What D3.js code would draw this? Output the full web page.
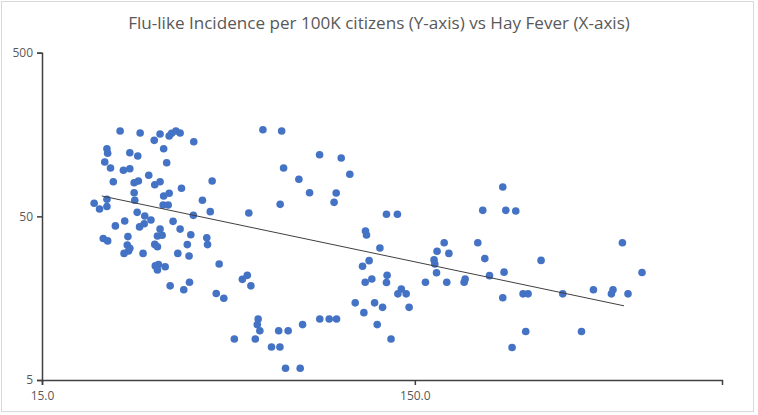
<!DOCTYPE html>
<html>
<head>
<meta charset="utf-8">
<script src="https://cdn.jsdelivr.net/npm/d3@7"></script>
<style>
  html, body { margin: 0; padding: 0; background: #fff; }
  svg { display: block; }
</style>
</head>
<body>
<svg id="chart" width="758" height="415"></svg>
<script>
// ---- Data ----
const hayFever = [
  24.3, 27.5, 31.1, 30.0, 32.9, 33.4, 34.3, 35.2, 38.3, 31.8,
  22.4, 22.5, 25.8, 27.1, 22.1, 32.4, 22.9, 24.8, 25.8, 29.0,
  23.3, 26.5, 27.2, 30.1, 31.1, 42.9, 35.5, 26.5, 31.8, 32.9,
  22.4, 26.6, 40.4, 20.7, 21.4, 22.4, 31.7, 32.7, 42.4, 53.8,
  27.0, 38.2, 28.3, 33.7, 29.4, 25.0, 23.6, 28.2, 27.4, 31.1,
  35.2, 30.6, 31.5, 37.6, 41.5, 41.7, 25.5, 21.9, 22.5, 25.4,
  25.8, 25.6, 24.9, 28.0, 30.1, 30.6, 36.8, 34.7, 37.2, 44.8,
  30.2, 30.8, 30.6, 32.1, 33.1, 36.0, 37.3, 44.0, 46.1, 51.7,
  53.3, 54.5, 57.0, 56.7, 57.6, 49.2, 56.0, 64.7, 68.6, 75.0,
  61.9, 65.2, 67.5, 73.9, 83.4, 88.4, 92.5, 58.7, 65.9, 83.3,
  95.2, 66.7, 73.3, 100.4, 78.3, 92.3, 91.1, 65.3, 125.9, 134.7,
  110.6, 111.3, 120.9, 108.6, 113.1, 110.4, 115.0, 126.4, 125.9, 103.8,
  109.5, 117.0, 122.9, 118.9, 129.5, 135.1, 138.0, 142.2, 144.8, 258.2,
  228.2, 263.1, 279.8, 179.8, 221.3, 172.1, 185.1, 168.9, 169.7, 231.1,
  327.1, 171.5, 160.2, 182.7, 204.7, 203.4, 237.9, 260.3, 258.2, 292.7,
  301.9, 297.6, 273.5, 374.0, 452.0, 510.1, 505.1, 559.6, 540.6, 610.2,
  419.9
];
const fluIncidence = [
  166.1, 161.5, 159.3, 145.7, 154.8, 160.9, 166.1, 161.5, 142.9, 129.5,
  129.5, 121.4, 122.4, 116.9, 107.4, 106.3, 98.7, 95.6, 97.7, 89.1,
  81.4, 80.3, 82.2, 78.0, 81.4, 82.2, 74.2, 69.7, 66.6, 69.2,
  63.6, 62.7, 62.7, 60.1, 55.4, 57.4, 58.7, 58.7, 53.4, 52.4,
  52.9, 50.7, 50.2, 46.6, 47.5, 46.8, 43.7, 45.1, 43.1, 41.8,
  41.8, 37.9, 38.3, 38.6, 37.0, 33.6, 37.6, 36.6, 35.4, 33.4,
  31.9, 30.7, 29.7, 29.7, 33.7, 32.6, 33.6, 29.7, 28.6, 25.6,
  24.9, 25.4, 23.5, 24.6, 18.8, 17.8, 19.8, 16.9, 15.8, 20.6,
  21.8, 18.8, 11.8, 10.9, 10.0, 8.9, 8.9, 10.0, 10.0, 10.9,
  7.95, 7.95, 5.9, 5.9, 11.8, 11.8, 11.8, 169.2, 166.1, 119.0,
  113.6, 98.7, 84.2, 90.4, 69.7, 69.5, 60.9, 59.2, 51.5, 51.5,
  40.7, 38.5, 32.0, 24.8, 26.8, 19.8, 20.7, 21.8, 19.7, 14.8,
  12.9, 14.8, 13.9, 10.9, 8.9, 16.8, 18.0, 16.8, 13.9, 75.6,
  54.4, 54.4, 53.9, 34.5, 34.5, 30.6, 29.7, 27.1, 25.6, 27.6,
  26.9, 22.6, 19.8, 19.8, 20.7, 19.8, 21.7, 22.8, 15.9, 16.8,
  16.8, 9.9, 7.9, 16.8, 17.8, 17.8, 16.8, 16.8, 34.5, 22.7,
  9.9
];
// Power trendline as drawn in the reference (endpoints)
const trendX = [21.7, 546];
const trendY = [66.6, 14.2];
const xTicks = [15, 150];
const yTicks = [5, 50, 500];
const xDomain = [15, 1000];
const yDomain = [5, 500];
const titleText = "Flu-like Incidence per 100K citizens (Y-axis) vs Hay Fever (X-axis)";

// ---- Drawing ----
(function () {
  const svg = d3.select("#chart");
  const W = 758, H = 415;
  const mLeft = 42, mRight = 722, mTop = 52.7, mBottom = 380;

  svg.append("rect")
    .attr("x", 1.5).attr("y", 1.5)
    .attr("width", W - 6).attr("height", H - 5)
    .attr("fill", "#fff").attr("stroke", "#d9d9d9").attr("stroke-width", 1);

  const x = d3.scaleLog().domain(xDomain).range([mLeft, mRight]);
  const y = d3.scaleLog().domain(yDomain).range([mBottom, mTop]);

  const font = "'Open Sans', 'Liberation Sans', sans-serif";

  const title = svg.append("text")
    .attr("x", 379).attr("y", 28.5)
    .attr("text-anchor", "middle")
    .attr("fill", "#595959")
    .style("font-family", font)
    .style("font-size", "18px")
    .text(titleText);
  const tw = title.node().getComputedTextLength();
  if (tw > 0) title.style("font-size", (18 * 502 / tw).toFixed(2) + "px");

  const xAxis = d3.axisBottom(x).tickValues(xTicks).tickFormat(d3.format(".1f"))
    .tickSizeOuter(0).tickSize(5).tickPadding(6);
  const yAxis = d3.axisLeft(y).tickValues(yTicks).tickFormat(d => d)
    .tickSizeOuter(0).tickSize(5).tickPadding(4);

  const gx = svg.append("g").attr("transform", `translate(0,${mBottom})`).call(xAxis);
  const gy = svg.append("g").attr("transform", `translate(${mLeft},0)`).call(yAxis);

  [gx, gy].forEach(g => {
    g.select(".domain").attr("stroke", "#404040").attr("stroke-width", 1.5);
    g.selectAll(".tick line").attr("stroke", "#404040").attr("stroke-width", 1.5);
    g.selectAll(".tick text")
      .attr("fill", "#595959")
      .style("font-family", font)
      .style("font-size", "12px");
  });

  svg.append("g").selectAll("circle")
    .data(hayFever.map((v, i) => [v, fluIncidence[i]]))
    .join("circle")
    .attr("cx", d => x(d[0]))
    .attr("cy", d => y(d[1]))
    .attr("r", 3.8)
    .attr("fill", "#4472C4");

  svg.append("path")
    .datum(trendX.map((v, i) => [v, trendY[i]]))
    .attr("fill", "none")
    .attr("stroke", "#404040")
    .attr("stroke-width", 1)
    .attr("d", d3.line().x(d => x(d[0])).y(d => y(d[1])));
})();
</script>
</body>
</html>
